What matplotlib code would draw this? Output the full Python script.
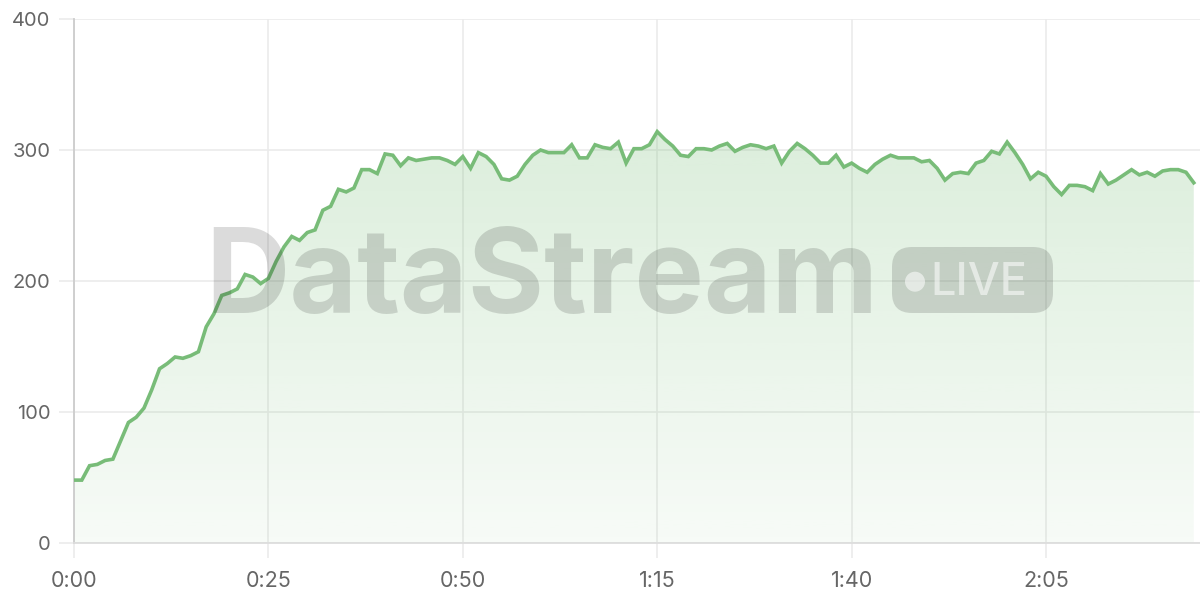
import numpy as np
import matplotlib
matplotlib.use("Agg")
import matplotlib.pyplot as plt
from matplotlib.patches import FancyBboxPatch, Circle

plt.rcParams['font.family'] = ['Inter', 'DejaVu Sans']

# one reading per second, 0:00 .. 2:24
values = [48, 48, 59, 60, 63, 64, 78, 92, 96, 103,
          117, 133, 137, 142, 141, 143, 146, 165, 175, 189,
          191, 194, 205, 203, 198, 202, 215, 226, 234, 231,
          237, 239, 254, 257, 270, 268, 271, 285, 285, 282,
          297, 296, 288, 294, 292, 293, 294, 294, 292, 289,
          295, 286, 298, 295, 289, 278, 277, 280, 289, 296,
          300, 298, 298, 298, 304, 294, 294, 304, 302, 301,
          306, 290, 301, 301, 304, 314, 308, 303, 296, 295,
          301, 301, 300, 303, 305, 299, 302, 304, 303, 301,
          303, 290, 299, 305, 301, 296, 290, 290, 296, 287,
          290, 286, 283, 289, 293, 296, 294, 294, 294, 291,
          292, 286, 277, 282, 283, 282, 290, 292, 299, 297,
          306, 298, 289, 278, 283, 280, 272, 266, 273, 273,
          272, 269, 282, 274, 277, 281, 285, 281, 283, 280,
          284, 285, 285, 283, 275]
seconds = np.arange(len(values))
xticks = [0, 25, 50, 75, 100, 125]
xtick_labels = ['0:00', '0:25', '0:50', '1:15', '1:40', '2:05']
yticks = [0, 100, 200, 300, 400]

line_color = '#78bc78'
grid_color = '#ebebeb'
text_color = '#666666'

fig = plt.figure(figsize=(12, 6), dpi=100)
ax = fig.add_axes([74 / 1200, 1 - 543 / 600, 1 - 74 / 1200, (543 - 19) / 600])

ax.set_xlim(0, 144.8)
ax.set_ylim(0, 400)

# gradient fill under the line
poly = ax.fill_between(seconds, values, 0, color='none', lw=0)
grad = np.zeros((256, 1, 4))
grad[:, 0, 0] = 120 / 255
grad[:, 0, 1] = 190 / 255
grad[:, 0, 2] = 120 / 255
grad[:, 0, 3] = np.linspace(0.06, 0.26, 256)
img = ax.imshow(grad, extent=[0, seconds[-1], 0, max(values)], origin='lower',
                aspect='auto', zorder=1)
img.set_clip_path(poly.get_paths()[0], transform=ax.transData)

ax.plot(seconds, values, color=line_color, lw=2.6, zorder=4, solid_joinstyle='miter')

ax.set_xticks(xticks)
ax.set_xticklabels(xtick_labels)
ax.set_yticks(yticks)
ax.grid(True, color=grid_color, lw=1.2, zorder=0)
ax.set_axisbelow(True)
ax.tick_params(axis='both', length=11, width=1.2, color=grid_color,
               labelcolor=text_color)
ax.tick_params(axis='y', pad=6, labelsize=14.5)
ax.tick_params(axis='x', pad=9, labelsize=15.5)
for side in ['top', 'right']:
    ax.spines[side].set_visible(False)
ax.spines['left'].set_color('#cccccc')
ax.spines['left'].set_linewidth(1.3)
ax.spines['bottom'].set_color('#dddddd')
ax.spines['bottom'].set_linewidth(1.3)

# watermark
wm = (0, 0, 0, 0.14)
fig.text(205 / 1200, 1 - 313 / 600, 'DataStream', fontsize=84, fontweight='bold',
         color=wm, ha='left', va='baseline', zorder=3)
badge = FancyBboxPatch((8.92, 2.87), 1.61, 0.66,
                       boxstyle='round,pad=0,rounding_size=0.2',
                       transform=fig.dpi_scale_trans, fc=wm, ec='none', zorder=3)
fig.patches.append(badge)
knock = (1, 1, 1, 0.55)
dot = Circle((9.15, 6 - 2.817), 0.1, transform=fig.dpi_scale_trans,
             fc=knock, ec='none', zorder=3)
fig.patches.append(dot)
fig.text(930 / 1200, 1 - 295 / 600, 'LIVE', fontsize=32.5, fontweight='medium',
         color=knock, ha='left', va='baseline', zorder=3)

fig.savefig('out.png', dpi=100)
